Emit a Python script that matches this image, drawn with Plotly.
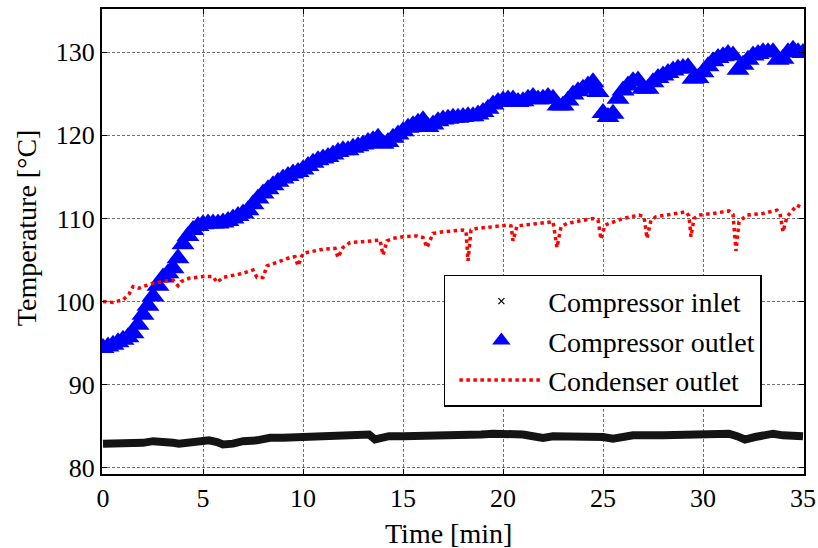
import plotly.graph_objects as go

# ---------------- data ----------------
# Compressor outlet, sampled every 0.25 min from 0 to 35 min
outlet_step_min = 0.25
outlet_temp = [
    94.4, 94.6, 94.8, 95.1, 95.4, 95.7, 96.2, 97.2, 98.4, 99.5,
    100.6, 101.9, 102.9, 103.4, 104.0, 105.2, 106.9, 107.9, 108.6, 109.1,
    109.3, 109.4, 109.4, 109.4, 109.5, 109.7, 110.0, 110.3, 110.6, 111.0,
    111.7, 112.4, 113.0, 113.5, 114.0, 114.4, 114.8, 115.1, 115.4, 115.6,
    115.9, 116.3, 116.7, 117.0, 117.2, 117.4, 117.7, 118.0, 118.2, 118.2,
    118.5, 118.7, 118.9, 119.2, 119.4, 119.7, 119.0, 119.2, 119.7, 120.1,
    120.5, 120.9, 121.2, 121.5, 121.8, 121.0, 121.3, 121.7, 121.9, 122.0,
    122.1, 122.1, 122.2, 122.3, 122.3, 122.5, 122.8, 123.2, 123.7, 124.0,
    124.2, 124.3, 124.3, 124.0, 124.1, 124.4, 124.6, 124.3, 124.4, 124.6,
    124.4, 123.6, 123.6, 124.2, 124.9, 125.3, 125.6, 126.0, 126.4, 125.2,
    122.7, 122.2, 122.6, 124.4, 125.4, 126.0, 126.5, 126.6, 125.6, 125.6,
    126.4, 126.9, 127.2, 127.5, 127.8, 128.0, 128.1, 128.2, 126.8, 126.9,
    127.6, 128.3, 128.9, 129.3, 129.5, 129.8, 129.6, 127.9, 128.5, 129.1,
    129.6, 129.8, 130.0, 130.0, 130.0, 129.1, 129.2, 130.0, 130.3, 130.0,
    129.9,
]
outlet_time = [round(i * outlet_step_min, 2) for i in range(len(outlet_temp))]

# Condenser outlet
cond_time = [
    0, 0.5, 1.0, 1.3, 1.5, 1.8, 2.0, 2.5, 3.0, 3.5, 3.75, 3.9, 4.3, 5.0, 5.5,
    5.7, 6.0, 6.5, 7.0, 7.5, 7.7, 8.0, 8.2, 8.8, 9.35, 9.6, 9.75, 10.0, 10.5,
    11.0, 11.6, 11.75, 12.0, 12.35, 13.0, 13.5, 13.85, 14.0, 14.2, 14.5, 15.0,
    15.7, 16.0, 16.2, 16.5, 17.0, 18.0, 18.15, 18.25, 18.4, 18.7, 19.5, 20.2,
    20.4, 20.5, 20.7, 21.0, 22.0, 22.5, 22.7, 22.9, 23.2, 24.0, 24.5, 24.75,
    24.9, 25.1, 25.5, 26.0, 26.8, 27.05, 27.2, 27.4, 27.65, 28.5, 29.15, 29.3,
    29.4, 29.55, 29.8, 30.5, 31.3, 31.5, 31.65, 31.8, 32.2, 33.0, 33.7, 33.85,
    34.0, 34.2, 34.7, 35.0,
]
cond_temp = [
    100.0, 99.9, 100.2, 100.9, 101.8, 101.6, 101.8, 102.2, 102.4, 102.6, 101.9,
    102.4, 102.8, 103.0, 103.0, 102.3, 102.9, 103.1, 103.4, 103.8, 102.9, 102.9,
    104.3, 104.8, 105.3, 105.4, 104.3, 105.8, 106.1, 106.3, 106.4, 105.3, 106.5,
    107.1, 107.2, 107.3, 107.4, 105.6, 107.3, 107.6, 107.8, 107.9, 107.7, 106.5,
    108.2, 108.4, 108.6, 108.5, 104.9, 108.6, 108.8, 109.0, 109.2, 109.1, 107.3,
    109.1, 109.2, 109.5, 109.6, 106.5, 109.0, 109.4, 109.8, 110.0, 109.8, 107.5,
    109.2, 109.6, 110.0, 110.4, 110.2, 107.6, 109.8, 110.2, 110.5, 110.8, 110.3,
    107.8, 110.0, 110.4, 110.6, 110.9, 110.5, 106.1, 109.6, 110.4, 110.6, 111.0,
    110.6, 108.4, 110.2, 111.6, 111.2,
]

# Compressor inlet
inlet_time = [
    0, 0.5, 1.0, 1.5, 2.0, 2.5, 3.0, 3.5, 3.8, 4.3, 5.0, 5.3, 5.7, 6.0, 6.5,
    7.0, 7.7, 8.35, 9.0, 10.0, 10.5, 11.0, 12.0, 12.7, 13.0, 13.3, 13.6, 14.0,
    14.3, 15.0, 16.0, 17.0, 18.0, 18.9, 19.5, 20.5, 21.0, 21.5, 22.0, 22.5,
    23.5, 24.5, 25.0, 25.5, 26.0, 26.5, 28.0, 29.0, 29.5, 30.5, 31.3, 31.7,
    32.1, 32.6, 33.0, 33.5, 34.0, 34.5, 35.0,
]
inlet_temp = [
    82.9, 82.9, 82.9, 83.1, 83.0, 83.2, 83.2, 83.0, 82.9, 83.1, 83.2, 83.3,
    83.1, 82.8, 82.9, 83.2, 83.3, 83.6, 83.6, 83.7, 83.8, 83.9, 83.9, 84.0,
    84.2, 84.0, 83.4, 83.6, 83.8, 83.8, 83.8, 83.8, 83.8, 84.0, 84.1, 84.1,
    84.0, 83.8, 83.6, 83.8, 83.8, 83.8, 83.7, 83.5, 83.7, 83.9, 83.9, 83.9,
    84.1, 84.1, 84.1, 83.8, 83.4, 83.7, 83.8, 84.1, 83.9, 83.8, 83.8,
]

x_ticks = [0, 5, 10, 15, 20, 25, 30, 35]
y_ticks = [80, 90, 100, 110, 120, 130]

FONT = "Liberation Serif, Times New Roman, serif"

fig = go.Figure()

# legend entry for compressor inlet (small marker only)
fig.add_trace(go.Scatter(
    x=[None], y=[None], mode="markers", name="Compressor inlet",
    marker=dict(symbol="x-thin", size=6, color="black",
                line=dict(width=1.2, color="black")),
))
fig.add_trace(go.Scatter(
    x=inlet_time, y=inlet_temp, mode="lines", showlegend=False,
    line=dict(color="#141414", width=8),
))
fig.add_trace(go.Scatter(
    x=outlet_time, y=outlet_temp, mode="markers", name="Compressor outlet",
    marker=dict(symbol="triangle-up", size=20, color="#0000ff",
                line=dict(width=0)),
))
fig.add_trace(go.Scatter(
    x=cond_time, y=cond_temp, mode="lines", name="Condenser outlet",
    line=dict(color="#ff0000", width=3.5, dash="dot"),
))

axis_common = dict(
    showline=True, linecolor="black", linewidth=2, mirror="ticks",
    ticks="inside", ticklen=5, tickwidth=1, tickcolor="black",
    showgrid=True, gridcolor="#707070", gridwidth=1, griddash="3px,2px",
    zeroline=False, automargin=False,
    tickfont=dict(family=FONT, size=26, color="black"),
)

fig.update_layout(
    width=818, height=548,
    margin=dict(l=102, r=14, t=9, b=74),
    paper_bgcolor="white", plot_bgcolor="white",
    font=dict(family=FONT, size=27, color="black"),
    xaxis=dict(range=[-0.05, 35.05], tickvals=x_ticks, **axis_common),
    yaxis=dict(range=[79.25, 135.2], tickvals=y_ticks, **axis_common),
    legend=dict(
        x=0.487, y=0.428, xanchor="left", yanchor="top",
        bgcolor="white", bordercolor="black", borderwidth=1.5,
        font=dict(family=FONT, size=28, color="black"),
        itemwidth=84, indentation=9, tracegroupgap=0,
    ),
    annotations=[
        dict(text="Time [min]", xref="paper", yref="paper",
             x=0.4943, y=-0.128, xanchor="center", yanchor="middle",
             showarrow=False, font=dict(family=FONT, size=28, color="black")),
        dict(text="Temperature [°C]", xref="paper", yref="paper",
             x=-0.108, y=0.529, xanchor="center", yanchor="middle",
             textangle=-90, showarrow=False,
             font=dict(family=FONT, size=28, color="black")),
    ],
)

# remove the browser's default 8px page margin so the 818x548 figure fits exactly
fig.write_html(
    "out.html",
    config={"displayModeBar": False},
    post_script="document.body.style.margin='0';"
                "document.body.style.overflow='hidden';",
)
